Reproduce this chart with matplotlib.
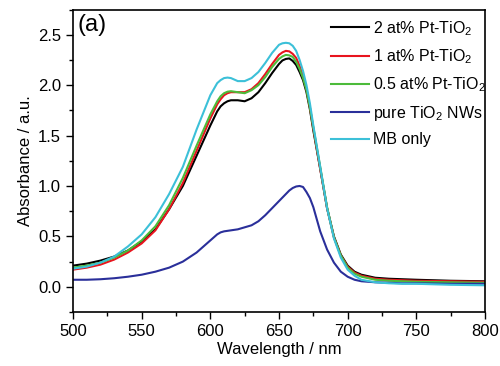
import matplotlib
matplotlib.use("Agg")
import matplotlib.pyplot as plt
from matplotlib.ticker import MultipleLocator, FormatStrFormatter

plt.rcParams['font.family'] = ['Liberation Sans', 'DejaVu Sans']
plt.rcParams['mathtext.fontset'] = 'custom'
plt.rcParams['mathtext.rm'] = 'Liberation Sans'
plt.rcParams['mathtext.default'] = 'regular'

wavelength = [500, 510, 520, 530, 540, 550, 560, 570, 580, 590, 600, 605, 607.5, 610, 612.5, 615, 620,
              625, 630, 635, 640, 645, 650, 652.5, 655, 657.5, 660, 662.5, 665, 667.5, 670, 672.5,
              675, 680, 685, 690, 695, 700, 705, 710, 720, 730, 740, 750, 775, 800]

pt2 = [0.21, 0.23, 0.26, 0.30, 0.36, 0.45, 0.57, 0.77, 1.00, 1.30, 1.60, 1.74, 1.79, 1.82, 1.84, 1.85, 1.85,
       1.84, 1.87, 1.93, 2.02, 2.12, 2.21, 2.245, 2.26, 2.265, 2.24, 2.20, 2.13, 2.05, 1.93, 1.76,
       1.55, 1.17, 0.78, 0.50, 0.32, 0.21, 0.15, 0.12, 0.09, 0.08, 0.075, 0.07, 0.06, 0.055]
pt1 = [0.17, 0.19, 0.22, 0.27, 0.34, 0.43, 0.56, 0.77, 1.03, 1.35, 1.67, 1.81, 1.86, 1.90, 1.92, 1.93, 1.93,
       1.93, 1.96, 2.02, 2.11, 2.21, 2.30, 2.325, 2.34, 2.335, 2.31, 2.27, 2.19, 2.09, 1.96, 1.78,
       1.57, 1.17, 0.78, 0.49, 0.31, 0.20, 0.14, 0.11, 0.08, 0.07, 0.065, 0.06, 0.055, 0.05]
pt05 = [0.19, 0.21, 0.24, 0.29, 0.36, 0.46, 0.60, 0.81, 1.08, 1.40, 1.71, 1.84, 1.89, 1.92, 1.935, 1.94, 1.93,
        1.92, 1.95, 2.00, 2.08, 2.18, 2.26, 2.285, 2.30, 2.295, 2.28, 2.23, 2.16, 2.07, 1.95, 1.78,
        1.58, 1.19, 0.79, 0.49, 0.31, 0.19, 0.13, 0.10, 0.07, 0.06, 0.055, 0.05, 0.045, 0.04]
pure = [0.07, 0.07, 0.075, 0.085, 0.10, 0.12, 0.15, 0.19, 0.25, 0.34, 0.46, 0.52, 0.54, 0.55, 0.555, 0.56, 0.57,
        0.59, 0.61, 0.65, 0.71, 0.78, 0.85, 0.885, 0.92, 0.955, 0.98, 0.995, 1.00, 0.99, 0.94, 0.88,
        0.79, 0.55, 0.37, 0.24, 0.15, 0.10, 0.07, 0.055, 0.045, 0.04, 0.035, 0.035, 0.03, 0.03]
mb = [0.18, 0.20, 0.24, 0.30, 0.40, 0.52, 0.69, 0.92, 1.19, 1.56, 1.90, 2.02, 2.05, 2.07, 2.075, 2.07, 2.04,
      2.04, 2.07, 2.13, 2.22, 2.32, 2.40, 2.415, 2.42, 2.415, 2.39, 2.34, 2.25, 2.14, 2.00, 1.82,
      1.60, 1.19, 0.78, 0.48, 0.29, 0.17, 0.11, 0.07, 0.045, 0.035, 0.03, 0.03, 0.02, 0.015]

fig = plt.figure(figsize=(5, 3.66), dpi=100)
ax = fig.add_axes([0.146, 0.1475, 0.824, 0.8265])

kw = dict(lw=1.5, solid_joinstyle='round')
ax.plot(wavelength, pt2, color='black', label='2 at% Pt-TiO$_2$', **kw)
ax.plot(wavelength, pt1, color='#e8141e', label='1 at% Pt-TiO$_2$', **kw)
ax.plot(wavelength, pt05, color='#4cbb3a', label='0.5 at% Pt-TiO$_2$', **kw)
ax.plot(wavelength, pure, color='#2a2f9a', label='pure TiO$_2$ NWs', **kw)
ax.plot(wavelength, mb, color='#3cc0d8', label='MB only', **kw)

ax.set_xlim(500, 800)
ax.set_ylim(-0.25, 2.75)
ax.xaxis.set_major_locator(MultipleLocator(50))
ax.xaxis.set_minor_locator(MultipleLocator(25))
ax.yaxis.set_major_locator(MultipleLocator(0.5))
ax.yaxis.set_minor_locator(MultipleLocator(0.25))
ax.yaxis.set_major_formatter(FormatStrFormatter('%.1f'))
ax.tick_params(which='both', direction='out', top=False, right=False, labelsize=12)
ax.tick_params(which='major', length=5, width=1)
ax.tick_params(which='minor', length=3, width=1)
for s in ax.spines.values():
    s.set_linewidth(1.2)

ax.set_xlabel('Wavelength / nm', fontsize=12, labelpad=2)
ax.set_ylabel('Absorbance / a.u.', fontsize=12)
ax.text(0.012, 0.985, '(a)', transform=ax.transAxes, fontsize=17, va='top', ha='left')

ax.legend(loc='upper right', frameon=False, fontsize=11.5, handlelength=2.4,
          handletextpad=0.2, labelspacing=0.6, borderaxespad=0.1,
          bbox_to_anchor=(1.02, 0.995))

fig.savefig('out.png', dpi=100)
